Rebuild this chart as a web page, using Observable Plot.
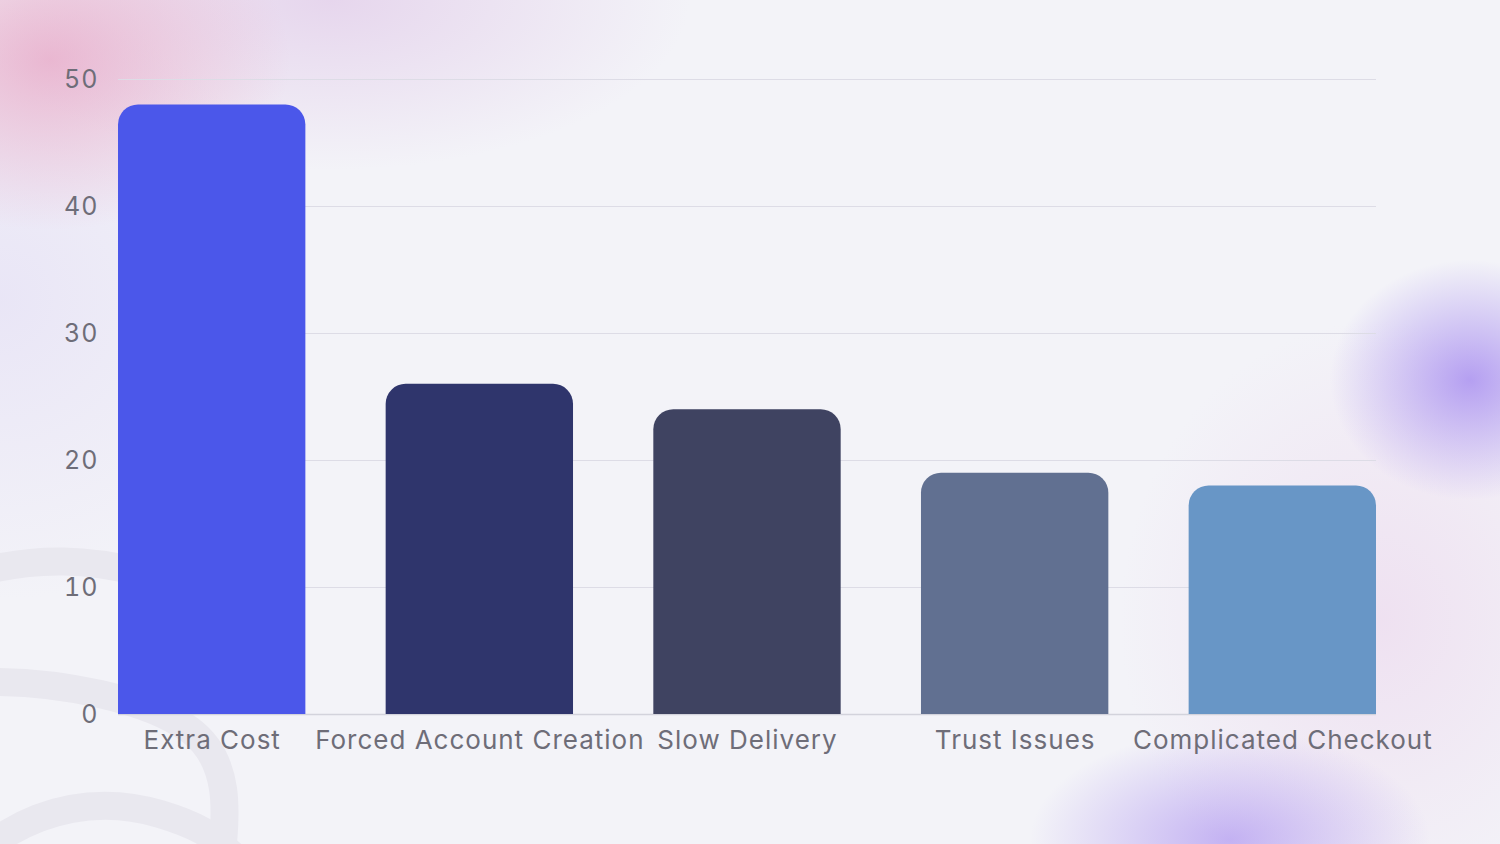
<!DOCTYPE html>
<html>
<head>
<meta charset="utf-8">
<script src="https://cdn.jsdelivr.net/npm/d3@7"></script>
<script src="https://cdn.jsdelivr.net/npm/@observablehq/plot@0.6"></script>
<style>
  html, body { margin: 0; padding: 0; width: 1500px; height: 844px; overflow: hidden; }
  body {
    position: relative;
    background:
      radial-gradient(ellipse 240px 170px at 50px 60px, rgba(232,170,200,0.8), rgba(232,170,200,0) 100%),
      radial-gradient(ellipse 360px 170px at 330px 0px, rgba(220,190,228,0.55), rgba(220,190,228,0) 100%),
      radial-gradient(ellipse 140px 120px at 1470px 380px, rgba(170,145,240,0.85), rgba(170,145,240,0) 100%),
      radial-gradient(ellipse 200px 110px at 1230px 840px, rgba(175,150,240,0.7), rgba(175,150,240,0) 100%),
      radial-gradient(ellipse 260px 300px at 1380px 620px, rgba(235,210,235,0.55), rgba(235,210,235,0) 100%),
      radial-gradient(ellipse 300px 300px at 0px 300px, rgba(232,228,246,0.9), rgba(232,228,246,0) 100%),
      #f3f3f8;
  }
  #deco { position: absolute; left: 0; top: 0; }
  #chart { position: absolute; left: 0; top: 0; }
  #chart text { letter-spacing: 1px; }
</style>
</head>
<body>
<svg id="deco" width="1500" height="844">
  <g fill="none" stroke="#e9e8ef" stroke-width="28" stroke-linecap="round">
    <path d="M -20 572 C 40 556, 90 560, 140 572"/>
    <path d="M -20 682 C 60 680, 150 700, 190 730 S 228 810, 220 870"/>
    <path d="M -10 845 C 40 808, 100 796, 160 814 S 215 845, 240 860"/>
  </g>
</svg>
<div id="chart"></div>
<script>
const categories = ["Extra Cost", "Forced Account Creation", "Slow Delivery", "Trust Issues", "Complicated Checkout"];
const values = [48, 26, 24, 19, 18];
const colors = ["#4b57ea", "#2f356c", "#3f4361", "#617091", "#6896c6"];
const yTicks = [0, 10, 20, 30, 40, 50];

const data = categories.map((c, i) => ({category: c, value: values[i]}));

const chart = Plot.plot({
  width: 1500,
  height: 844,
  marginLeft: 118,
  marginRight: 124,
  marginTop: 79,
  marginBottom: 130,
  style: {background: "transparent", fontFamily: "Inter, 'Open Sans', sans-serif", color: "#6e6d78", overflow: "visible"},
  x: {domain: categories, paddingInner: 0.3, paddingOuter: 0, round: false, label: null},
  y: {domain: [0, 50], label: null},
  color: {domain: categories, range: colors},
  marks: [
    Plot.gridY(yTicks.filter(d => d > 0), {stroke: "#dddce6", strokeOpacity: 1, strokeWidth: 1}),
    Plot.ruleY([0], {stroke: "#d3d3dc", strokeWidth: 1.5}),
    Plot.barY(data, {x: "category", y: "value", fill: "category", ry1: 20}),
    Plot.axisY({ticks: yTicks, tickSize: 0, tickPadding: 20, fontSize: 25, label: null, fill: "#6e6d78"}),
    Plot.axisX({tickSize: 0, tickPadding: 16, fontSize: 26, label: null, fill: "#6e6d78"})
  ]
});
document.getElementById("chart").appendChild(chart);
</script>
</body>
</html>
